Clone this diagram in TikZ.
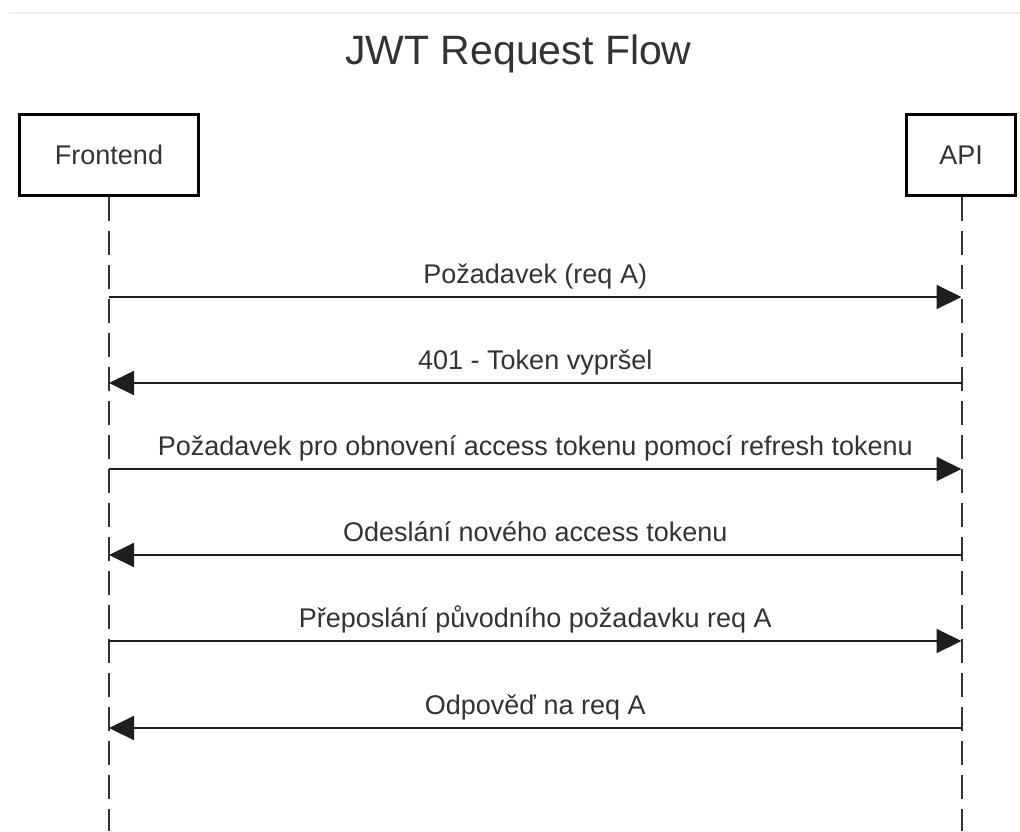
\documentclass[tikz,border=0pt]{standalone}
\usepackage{fontspec}
\setmainfont{Liberation Sans}
\usetikzlibrary{arrows.meta}
\definecolor{txt}{HTML}{333333}
\definecolor{ln}{HTML}{1E1E1E}
\definecolor{rule}{HTML}{EFEFEF}
\begin{document}
\begin{tikzpicture}[x=1pt,y=-1pt,
  actor/.style={draw=black, line width=3pt, fill=white, minimum height=81pt,
    inner sep=0pt, text=txt, font=\fontsize{27}{30}\selectfont},
  lifeline/.style={draw=txt, line width=2pt, dash pattern=on 24pt off 10pt},
  msg/.style={draw=ln, line width=2pt, -{Triangle[length=25pt,width=24pt]}},
  lbl/.style={pos=0.5, anchor=base, yshift=14pt, text=txt, inner sep=0pt,
    font=\fontsize{27}{30}\selectfont}]
\useasboundingbox (0,0) rectangle (1020,831);
\draw[rule, line width=2pt] (9,13) -- (1020,13);
\node[anchor=base, text=txt, font=\fontsize{41}{46}\selectfont, inner sep=0pt] (title) at (518.5,64) {JWT Request Flow};
% lifelines
\coordinate (feend) at (109,831);
\coordinate (apiend) at (961.5,831);
\draw[lifeline] (109,197) -- (feend);
\draw[lifeline] (961.5,197) -- (apiend);
\node[actor, minimum width=179pt] (fe) at (109,155) {Frontend};
\node[actor, minimum width=109pt] (api) at (961,155) {API};
% message anchor points
\foreach \i/\y in {1/297,2/383,3/469,4/555,5/641,6/728}{
  \coordinate (f\i) at (109,\y);
  \coordinate (a\i) at (961.5,\y);
}
\draw[msg] (f1) -- (a1) node[lbl] {Požadavek (req A)};
\draw[msg] (a2) -- (f2) node[lbl] {401 - Token vypršel};
\draw[msg] (f3) -- (a3) node[lbl] {Požadavek pro obnovení access tokenu pomocí refresh tokenu};
\draw[msg] (a4) -- (f4) node[lbl] {Odeslání nového access tokenu};
\draw[msg] (f5) -- (a5) node[lbl] {Přeposlání původního požadavku req A};
\draw[msg] (a6) -- (f6) node[lbl] {Odpověď na req A};
\end{tikzpicture}
\end{document}
